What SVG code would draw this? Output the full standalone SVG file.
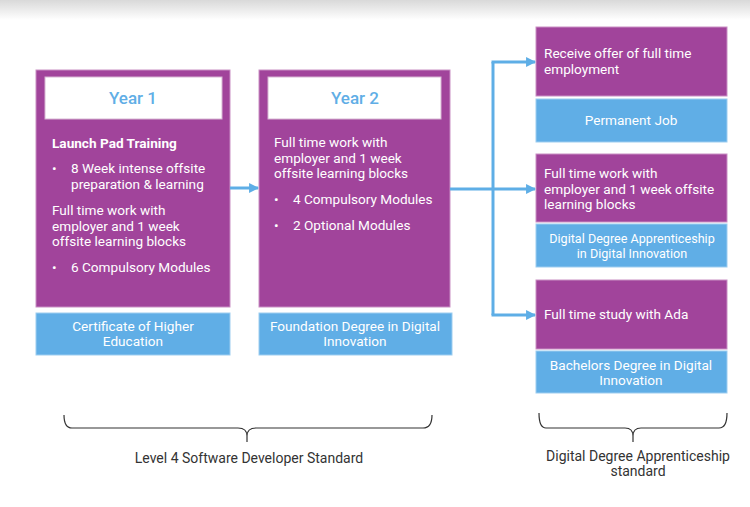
<svg xmlns="http://www.w3.org/2000/svg" width="750" height="507" viewBox="0 0 750 507">
<defs>
<linearGradient id="topfade" x1="0" y1="0" x2="0" y2="1">
<stop offset="0" stop-color="#d9d9d9"/>
<stop offset="1" stop-color="#ffffff"/>
</linearGradient>
<marker id="ah" viewBox="0 0 10 10" refX="9" refY="5" markerWidth="3.3" markerHeight="3.3" orient="auto" markerUnits="strokeWidth">
<path d="M0,0 L10,5 L0,10 z" fill="#5eaee6"/>
</marker>
<style>
.p{fill:#a1449b;stroke:#c98fc4;stroke-width:1}
.b{fill:#60aee6;stroke:#9dcdf0;stroke-width:1}
.w{fill:#ffffff;stroke:#d7b6d3;stroke-width:1}
.t{font-family:Roboto,"Open Sans",sans-serif;font-size:13.6px;fill:#ffffff}
.tb{font-family:Roboto,"Open Sans",sans-serif;font-size:13.6px;fill:#ffffff;font-weight:bold}
.c{font-family:Roboto,"Open Sans",sans-serif;font-size:13.6px;fill:#ffffff;text-anchor:middle}
.cs{font-family:Roboto,"Open Sans",sans-serif;font-size:12.6px;fill:#ffffff;text-anchor:middle}
.h{font-family:Roboto,"Open Sans",sans-serif;font-size:17px;fill:#60aee6;text-anchor:middle;font-weight:500}
.k{font-family:Roboto,"Open Sans",sans-serif;font-size:14px;fill:#333333;text-anchor:middle}
.ln{fill:none;stroke:#5eaee6;stroke-width:3}
.br{fill:none;stroke:#333333;stroke-width:1.2}
</style>
</defs>
<rect x="0" y="0" width="750" height="20" fill="url(#topfade)"/>

<g id="year1">
<rect class="p" x="36" y="70" width="194" height="237"/>
<rect class="w" x="45" y="77" width="177" height="42"/>
<text class="h" x="133" y="104">Year 1</text>
<text class="tb" x="52" y="148">Launch Pad Training</text>
<text class="t" x="52" y="173">•</text>
<text class="t" x="71" y="173">8 Week intense offsite</text>
<text class="t" x="71" y="189">preparation &amp; learning</text>
<text class="t" x="52" y="215">Full time work with</text>
<text class="t" x="52" y="231">employer and 1 week</text>
<text class="t" x="52" y="246">offsite learning blocks</text>
<text class="t" x="52" y="272">•</text>
<text class="t" x="71" y="272">6 Compulsory Modules</text>
</g>
<g id="cert">
<rect class="b" x="36" y="313" width="194" height="42"/>
<text class="c" x="133" y="331">Certificate of Higher</text>
<text class="c" x="133" y="346">Education</text>
</g>

<g id="year2">
<rect class="p" x="259" y="70" width="191" height="237"/>
<rect class="w" x="268" y="77" width="173" height="42"/>
<text class="h" x="355" y="104">Year 2</text>
<text class="t" x="274" y="147">Full time work with</text>
<text class="t" x="274" y="163">employer and 1 week</text>
<text class="t" x="274" y="178">offsite learning blocks</text>
<text class="t" x="274" y="204">•</text>
<text class="t" x="293" y="204">4 Compulsory Modules</text>
<text class="t" x="274" y="230">•</text>
<text class="t" x="293" y="230">2 Optional Modules</text>
</g>
<g id="foundation">
<rect class="b" x="259" y="313" width="193" height="42"/>
<text class="c" x="355" y="331">Foundation Degree in Digital</text>
<text class="c" x="355" y="346">Innovation</text>
</g>

<g id="offer">
<rect class="p" x="536" y="27" width="191" height="69"/>
<text class="t" x="544" y="58">Receive offer of full time</text>
<text class="t" x="544" y="74">employment</text>
</g>
<g id="permanent">
<rect class="b" x="536" y="99" width="191" height="43"/>
<text class="c" x="631" y="125">Permanent Job</text>
</g>

<g id="fulltimework">
<rect class="p" x="536" y="154" width="191" height="68"/>
<text class="t" x="544" y="178">Full time work with</text>
<text class="t" x="544" y="194">employer and 1 week offsite</text>
<text class="t" x="544" y="209">learning blocks</text>
</g>
<g id="dda">
<rect class="b" x="536" y="224" width="191" height="43"/>
<text class="cs" x="632" y="243">Digital Degree Apprenticeship</text>
<text class="cs" x="632" y="258">in Digital Innovation</text>
</g>

<g id="study">
<rect class="p" x="536" y="280" width="191" height="69"/>
<text class="t" x="544" y="319">Full time study with Ada</text>
</g>
<g id="bachelors">
<rect class="b" x="536" y="351" width="191" height="42"/>
<text class="c" x="631" y="370">Bachelors Degree in Digital</text>
<text class="c" x="631" y="385">Innovation</text>
</g>

<g id="connectors">
<line class="ln" x1="230" y1="188" x2="258" y2="188" marker-end="url(#ah)"/>
<line class="ln" x1="450" y1="189" x2="535" y2="189" marker-end="url(#ah)"/>
<line class="ln" x1="493" y1="62" x2="493" y2="315"/>
<line class="ln" x1="491.5" y1="62" x2="535" y2="62" marker-end="url(#ah)"/>
<line class="ln" x1="491.5" y1="315" x2="535" y2="315" marker-end="url(#ah)"/>
</g>

<g id="brace-level4">
<path class="br" d="M64,415 Q64,428 72,428 L238,428 Q247,428 247,436 L247,442 M247,436 Q247,428 256,428 L423,428 Q432,428 432,415"/>
<text class="k" x="249" y="463">Level 4 Software Developer Standard</text>
</g>
<g id="brace-dda">
<path class="br" d="M539,413 Q539,428 546,428 L625,428 Q633,428 633,436 L633,442 M633,436 Q633,428 641,428 L719,428 Q727,428 727,413"/>
<text class="k" x="638" y="461">Digital Degree Apprenticeship</text>
<text class="k" x="638" y="476">standard</text>
</g>
</svg>
